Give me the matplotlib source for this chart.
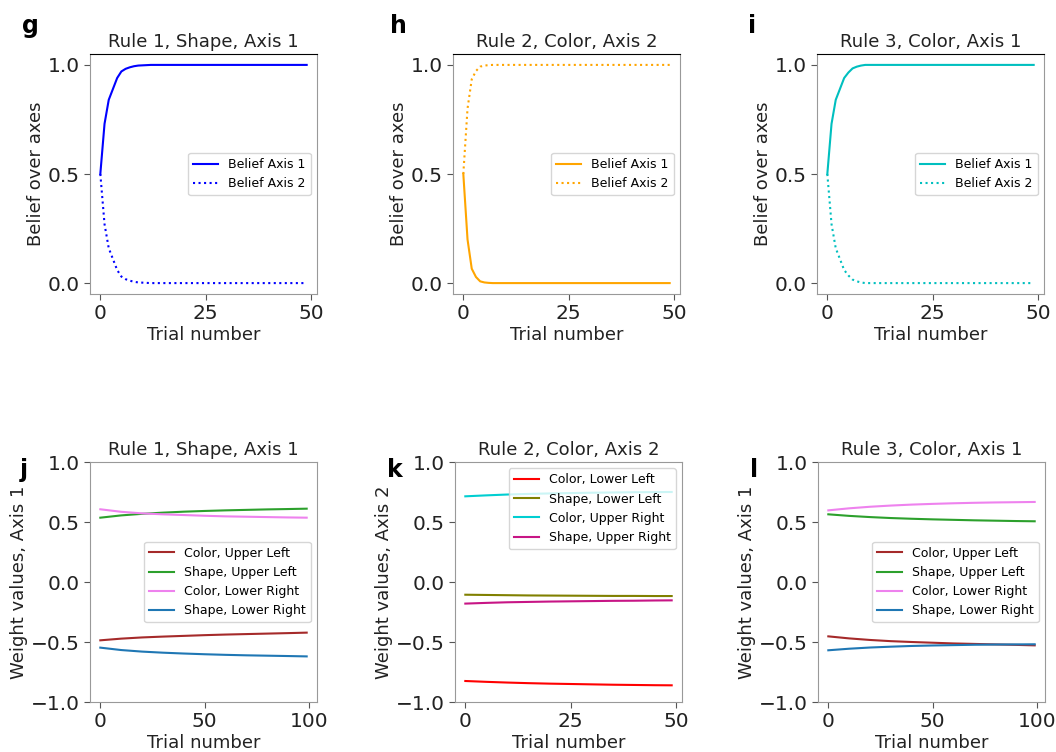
import matplotlib
matplotlib.use('Agg')
import matplotlib.pyplot as plt

# %%

##################
## Belief data ##
##################

# trials 0..49, belief over the two axes
g_axis1 = [0.50, 0.73, 0.84, 0.89, 0.94, 0.97, 0.982, 0.989, 0.994, 0.997, 0.998, 0.999] + [1.0] * 38
g_axis2 = [0.50, 0.27, 0.16, 0.11, 0.06, 0.03, 0.018, 0.011, 0.006, 0.003, 0.002, 0.001] + [0.0] * 38

h_axis1 = [0.50, 0.20, 0.066, 0.028, 0.008, 0.003, 0.001] + [0.0] * 43
h_axis2 = [0.50, 0.80, 0.934, 0.972, 0.992, 0.997, 0.999] + [1.0] * 43

i_axis1 = [0.50, 0.73, 0.84, 0.89, 0.94, 0.965, 0.984, 0.992, 0.997, 1.0] + [1.0] * 40
i_axis2 = [0.50, 0.27, 0.16, 0.11, 0.06, 0.035, 0.016, 0.008, 0.003, 0.0] + [0.0] * 40

belief_trials = list(range(50))

# %%

##################
## Weight data ##
##################

trials_100 = [0, 10, 20, 30, 40, 50, 60, 70, 80, 90, 99]
trials_50 = [0, 5, 10, 15, 20, 25, 30, 35, 40, 45, 49]

j_color_ul = [-0.486, -0.472, -0.462, -0.455, -0.449, -0.443, -0.438, -0.434, -0.430, -0.426, -0.422]
j_shape_ul = [0.536, 0.555, 0.568, 0.578, 0.586, 0.592, 0.597, 0.601, 0.605, 0.608, 0.611]
j_color_lr = [0.606, 0.585, 0.572, 0.564, 0.558, 0.552, 0.547, 0.544, 0.541, 0.538, 0.536]
j_shape_lr = [-0.547, -0.567, -0.580, -0.589, -0.596, -0.602, -0.607, -0.611, -0.614, -0.617, -0.620]

k_color_ll = [-0.825, -0.832, -0.838, -0.843, -0.847, -0.850, -0.853, -0.856, -0.858, -0.860, -0.861]
k_shape_ll = [-0.106, -0.108, -0.110, -0.112, -0.113, -0.114, -0.115, -0.116, -0.116, -0.117, -0.117]
k_color_ur = [0.714, 0.722, 0.729, 0.734, 0.738, 0.741, 0.744, 0.746, 0.748, 0.749, 0.750]
k_shape_ur = [-0.180, -0.174, -0.169, -0.166, -0.163, -0.161, -0.159, -0.157, -0.156, -0.154, -0.153]

l_color_ul = [-0.453, -0.470, -0.483, -0.493, -0.500, -0.506, -0.512, -0.516, -0.520, -0.524, -0.528]
l_shape_ul = [0.564, 0.551, 0.541, 0.533, 0.527, 0.522, 0.518, 0.514, 0.511, 0.508, 0.506]
l_color_lr = [0.597, 0.614, 0.627, 0.637, 0.645, 0.651, 0.656, 0.660, 0.663, 0.665, 0.667]
l_shape_lr = [-0.569, -0.556, -0.546, -0.539, -0.533, -0.529, -0.526, -0.523, -0.521, -0.520, -0.519]

# %%

###########
## Plot ##
###########

W, H = 1056, 752
fig = plt.figure(figsize=(W / 100, H / 100), dpi=100)

def add_panel(left_px, top_px, width_px=227, height_px=240):
    return fig.add_axes([left_px / W, (H - top_px - height_px) / H, width_px / W, height_px / H])

def style_axis(ax, title, ylabel, dark_top=False):
    ax.set_title(title, fontsize=13, pad=5, color='#222222')
    ax.set_xlabel('Trial number', fontsize=13, labelpad=2, color='#222222')
    ax.set_ylabel(ylabel, fontsize=13, labelpad=2, color='#222222')
    ax.tick_params(axis='both', labelsize=14.5, color='#555555', length=4, labelcolor='#222222')
    for s in ax.spines.values():
        s.set_color('#999999')
    if dark_top:
        ax.spines['top'].set_color('black')

top_panels = [
    ('g', 90, g_axis1, g_axis2, 'blue', 'Rule 1, Shape, Axis 1'),
    ('h', 453, h_axis1, h_axis2, 'orange', 'Rule 2, Color, Axis 2'),
    ('i', 817, i_axis1, i_axis2, 'c', 'Rule 3, Color, Axis 1'),
]
for letter, left, a1, a2, col, title in top_panels:
    ax = add_panel(left, 54)
    ax.plot(belief_trials, a1, color=col, lw=1.5, label='Belief Axis 1')
    ax.plot(belief_trials, a2, color=col, lw=1.5, ls=':', label='Belief Axis 2')
    ax.set_xticks([0, 25, 50])
    ax.set_yticks([0.0, 0.5, 1.0])
    style_axis(ax, title, 'Belief over axes', dark_top=True)
    ax.legend(loc='center right', fontsize=9)

bottom_panels = [
    (90, trials_100, [j_color_ul, j_shape_ul, j_color_lr, j_shape_lr],
     ['Color, Upper Left', 'Shape, Upper Left', 'Color, Lower Right', 'Shape, Lower Right'],
     ['brown', 'tab:green', 'violet', 'tab:blue'],
     'Rule 1, Shape, Axis 1', 'Weight values, Axis 1', [0, 50, 100], 'center right'),
    (455, trials_50, [k_color_ll, k_shape_ll, k_color_ur, k_shape_ur],
     ['Color, Lower Left', 'Shape, Lower Left', 'Color, Upper Right', 'Shape, Upper Right'],
     ['red', 'olive', 'darkturquoise', 'mediumvioletred'],
     'Rule 2, Color, Axis 2', 'Weight values, Axis 2', [0, 25, 50], 'upper right'),
    (818, trials_100, [l_color_ul, l_shape_ul, l_color_lr, l_shape_lr],
     ['Color, Upper Left', 'Shape, Upper Left', 'Color, Lower Right', 'Shape, Lower Right'],
     ['brown', 'tab:green', 'violet', 'tab:blue'],
     'Rule 3, Color, Axis 1', 'Weight values, Axis 1', [0, 50, 100], 'center right'),
]
for left, xs, series, labels, colors, title, ylabel, xt, loc in bottom_panels:
    ax = add_panel(left, 462)
    for ys, lab, col in zip(series, labels, colors):
        ax.plot(xs, ys, color=col, lw=1.5, label=lab)
    ax.set_ylim(-1.0, 1.0)
    ax.set_xticks(xt)
    ax.set_yticks([-1.0, -0.5, 0.0, 0.5, 1.0])
    style_axis(ax, title, ylabel)
    ax.legend(loc=loc, fontsize=9)

# panel letters
for letter, x, y in [('g', 22, 26), ('h', 390, 26), ('i', 748, 26),
                     ('j', 20, 470), ('k', 387, 470), ('l', 750, 470)]:
    fig.text(x / W, 1 - y / H, letter, fontsize=17, fontweight='bold', va='center')

fig.savefig('out.png', dpi=100)
